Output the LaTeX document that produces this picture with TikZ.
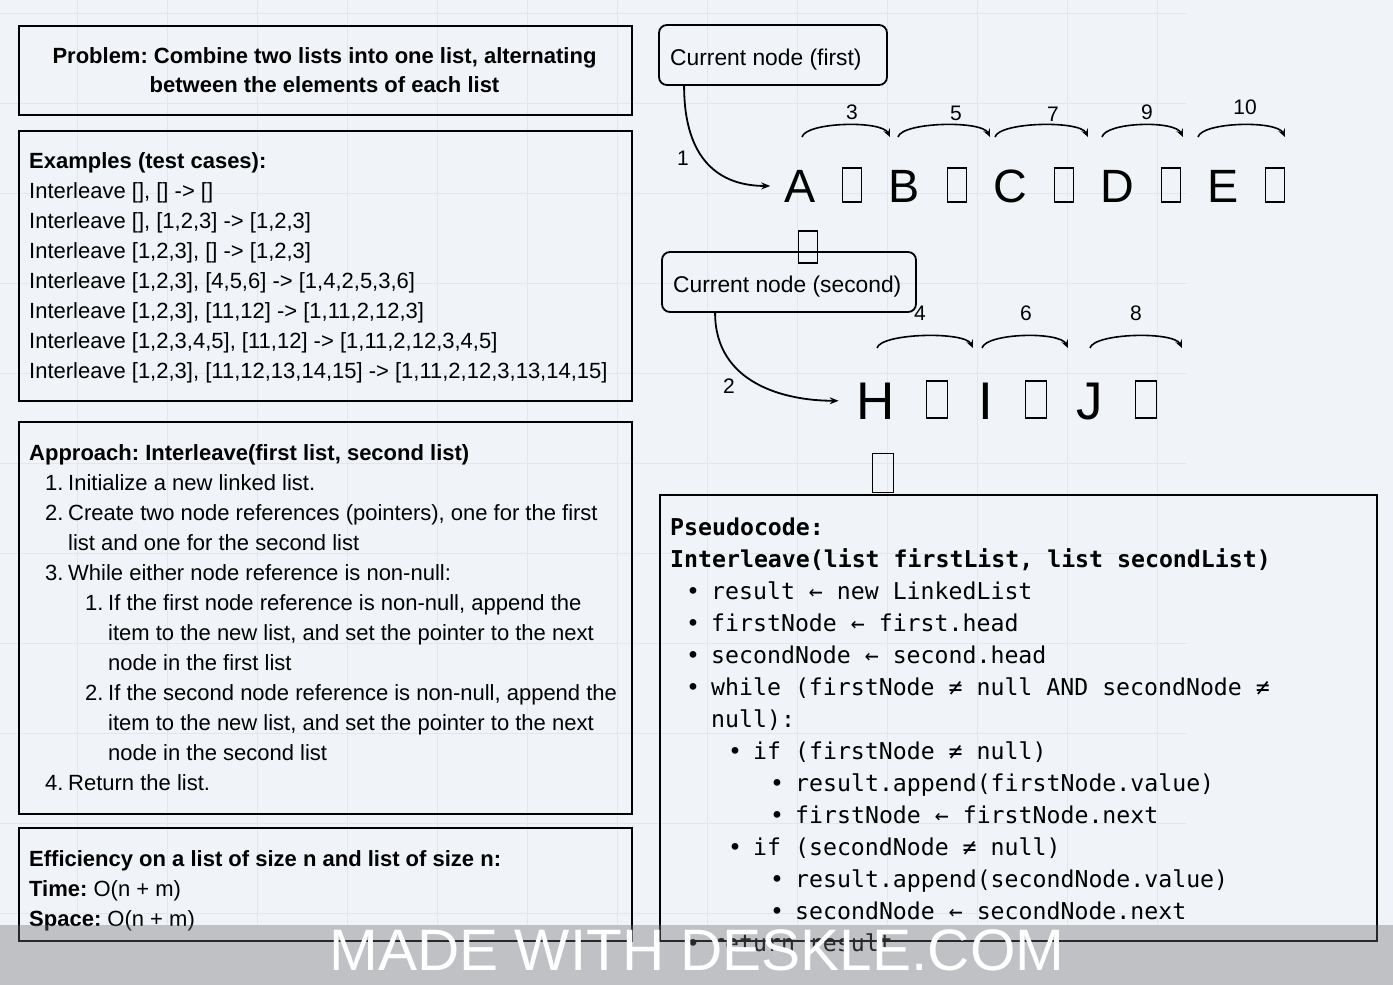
\documentclass[tikz,border=0pt]{standalone}
\usepackage{fontspec}
\setmainfont{Liberation Sans}
\newfontfamily\codefont{DejaVu Sans Mono}
\usepackage{tikz}
\usetikzlibrary{arrows.meta,positioning}
\frenchspacing

\definecolor{canvas}{RGB}{240,243,247}
\definecolor{gridc}{RGB}{226,231,236}
\definecolor{bandc}{RGB}{108,110,113}

\tikzset{
  panel/.style={draw, line width=2.2pt, inner sep=0pt, anchor=north west},
  ptrbox/.style={draw, line width=1.8pt, rounded corners=8pt, inner sep=0pt},
  txt/.style={anchor=base west, inner sep=0pt, font=\fontsize{22}{27}\selectfont},
  head/.style={txt, font=\fontsize{22}{27}\selectfont\bfseries},
  ptrtxt/.style={anchor=base west, inner sep=0pt, font=\fontsize{22.8}{27}\selectfont},
  code/.style={anchor=base west, inner sep=0pt, font=\codefont\fontsize{23.2}{28}\selectfont},
  codehead/.style={code, font=\codefont\fontsize{23.2}{28}\selectfont\bfseries},
  dot/.style={anchor=base, inner sep=0pt, font=\codefont\fontsize{23.2}{28}\selectfont},
  bigletter/.style={anchor=base, inner sep=0pt, font=\fontsize{46.7}{50}\selectfont},
  hugeletter/.style={anchor=base, inner sep=0pt, font=\fontsize{53}{56}\selectfont},
  tofu/.style={draw, line width=1.6pt, inner sep=0pt},
  lbl/.style={inner sep=0pt, font=\fontsize{21}{24}\selectfont},
  hop/.style={line width=1.6pt, -{Stealth[length=8pt,width=7pt,inset=3pt]}},
  ptr/.style={line width=1.8pt, -{Stealth[length=9pt,width=7pt,inset=3pt]}},
  wmtext/.style={anchor=base, inner sep=0pt, text=white, font=\fontsize{58.5}{60}\selectfont}
}

\begin{document}
\begin{tikzpicture}[x=1pt,y=-1pt]
    % canvas and grid
    \fill[canvas] (0,0) rectangle (1393,985);
    \useasboundingbox (0,0) rectangle (1393,985);
    \foreach \gx in {77,167,...,1157} {
        \draw[gridc, line width=0.8pt] (\gx,0) -- (\gx,925);
    }
    \foreach \gy in {13,103,...,913} {
        \draw[gridc, line width=0.8pt] (0,\gy) -- (1187,\gy);
    }

    % Left panels
    \node[panel, minimum width=613, minimum height=89] (problem) at (18,25) {};
    \node[head, anchor=base] (prob1) at (324.5,63) {Problem: Combine two lists into one list, alternating};
    \node[head, anchor=base] (prob2) at (324.5,92) {between the elements of each list};

    \node[panel, minimum width=613, minimum height=270] (examples) at (18,130) {};
    \node[head] (exhead) at (29,168) {Examples (test cases):};
    \foreach \t [count=\i] in {
        {Interleave [], [] -> []},
        {Interleave [], [1,2,3] -> [1,2,3]},
        {Interleave [1,2,3], [] -> [1,2,3]},
        {Interleave [1,2,3], [4,5,6] -> [1,4,2,5,3,6]},
        {Interleave [1,2,3], [11,12] -> [1,11,2,12,3]},
        {Interleave [1,2,3,4,5], [11,12] -> [1,11,2,12,3,4,5]},
        {Interleave [1,2,3], [11,12,13,14,15] -> [1,11,2,12,3,13,14,15]}
    } {
        \node[txt] (ex\i) at (29,{168+30*\i}) {\t};
    }

    \node[panel, minimum width=613, minimum height=392] (approach) at (18,421) {};
    \node[head] (aphead) at (29,460) {Approach: Interleave(first list, second list)};
    \foreach \y/\x/\n [count=\i] in {490/45/1., 520/45/2., 580/45/3., 610/85/1., 700/85/2., 790/45/4.} {
        \node[txt] (apnum\i) at (\x,\y) {\n};
    }
    \foreach \y/\x/\t [count=\i] in {
        490/68/{Initialize a new linked list.},
        520/68/{Create two node references (pointers), one for the first},
        550/68/{list and one for the second list},
        580/68/{While either node reference is non-null:},
        610/108/{If the first node reference is non-null, append the},
        640/108/{item to the new list, and set the pointer to the next},
        670/108/{node in the first list},
        700/108/{If the second node reference is non-null, append the},
        730/108/{item to the new list, and set the pointer to the next},
        760/108/{node in the second list},
        790/68/{Return the list.}
    } {
        \node[txt] (ap\i) at (\x,\y) {\t};
    }

    \node[panel, minimum width=613, minimum height=113] (efficiency) at (18,827) {};
    \node[head] (effhead) at (29,866) {Efficiency on a list of size n and list of size n:};
    \node[txt] (efftime) at (29,896) {\textbf{Time:} O(n + m)};
    \node[txt] (effspace) at (29,926) {\textbf{Space:} O(n + m)};

    % Pointer boxes
    \node[ptrbox, minimum width=228, minimum height=60] (cur1) at (773,55) {};
    \node[ptrtxt] (cur1txt) at (670,65) {Current node (first)};
    \node[ptrbox, minimum width=254, minimum height=60] (cur2) at (789,282) {};
    \node[ptrtxt] (cur2txt) at (673,292) {Current node (second)};

    % First list
    \foreach \l/\x in {A/800,B/904,C/1010,D/1117,E/1223} {
        \node[bigletter] (\l) at (\x,202) {\l};
    }
    \foreach \x [count=\i] in {852,957,1064,1171,1275} {
        \node[tofu, minimum width=19, minimum height=34] (ta\i) at (\x,185) {};
    }
    \node[tofu, minimum width=19, minimum height=32] (tdown1) at (808,247) {};

    % Second list
    \foreach \l/\x in {H/876,I/986,J/1090} {
        \node[hugeletter] (\l) at (\x,419) {\l};
    }
    \foreach \x [count=\i] in {937,1036,1146} {
        \node[tofu, minimum width=21, minimum height=37] (tb\i) at (\x,399.5) {};
    }
    \node[tofu, minimum width=21, minimum height=39] (tdown2) at (883,473) {};

    % Pointers into the lists
    \draw[ptr] ([xshift=26pt]cur1.south west) .. controls +(0,75) and +(-50,0) .. ([xshift=-14pt]A.west);
    \node[lbl] (step1) at (683,158) {1};
    \draw[ptr] ([xshift=54pt]cur2.south west) .. controls +(0,70) and +(-55,0) .. ([xshift=-18pt]H.west);
    \node[lbl] (step2) at (729,386) {2};

    % Hops over the lists
    \foreach \a/\b/\n/\lx/\ly in {802/890/3/852/112, 898/990/5/956/113, 995/1088/7/1053/114,
                                  1102/1183/9/1147/112, 1198/1285/10/1245/107} {
        \coordinate (hs\n) at (\a,137);
        \coordinate (he\n) at (\b,137);
        \draw[hop] (hs\n) .. controls +(4,-15) and +(-8,-17) .. (he\n);
        \node[lbl] (hl\n) at (\lx,\ly) {\n};
    }
    \foreach \a/\b/\n/\lx in {877/973/4/920, 982/1068/6/1026, 1090/1182/8/1136} {
        \coordinate (hs\n) at (\a,348);
        \coordinate (he\n) at (\b,348);
        \draw[hop] (hs\n) .. controls +(4,-15) and +(-8,-17) .. (he\n);
        \node[lbl] (hl\n) at (\lx,313) {\n};
    }

    % Pseudocode
    \node[panel, minimum width=717, minimum height=446] (pseudo) at (659,494) {};
    \node[codehead] (pchead) at (670,535) {Pseudocode:};
    \node[codehead] (pcsig) at (670,567) {Interleave(list firstList, list secondList)};
    \foreach \y/\lv/\t [count=\i] in {
        599/1/{result ← new LinkedList},
        631/1/{firstNode ← first.head},
        663/1/{secondNode ← second.head},
        695/1/{while (firstNode ≠ null AND secondNode ≠},
        759/2/{if (firstNode ≠ null)},
        791/3/{result.append(firstNode.value)},
        823/3/{firstNode ← firstNode.next},
        855/2/{if (secondNode ≠ null)},
        887/3/{result.append(secondNode.value)},
        919/3/{secondNode ← secondNode.next},
        951/1/{return result}
    } {
        \node[dot] (dot\i) at ({651+42*\lv},\y) {•};
        \node[code] (pc\i) at ({669+42*\lv},\y) {\t};
    }
    \node[code] (pcwrap) at (711,727) {null):};

    % Watermark
    \fill[bandc, opacity=0.37] (0,925) rectangle (1393,985);
    \node[wmtext] (wm) at (697,970) {MADE WITH DESKLE.COM};
\end{tikzpicture}
\end{document}
